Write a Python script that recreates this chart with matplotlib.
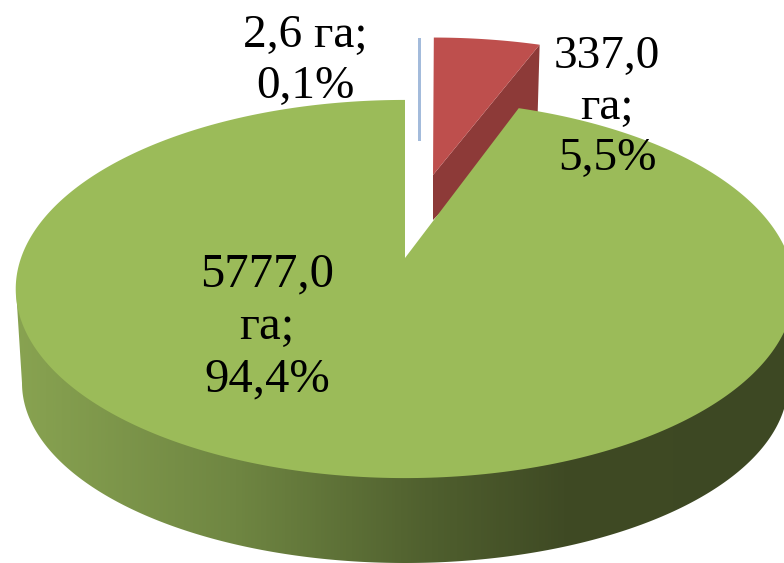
import numpy as np
import matplotlib
matplotlib.use("Agg")
import matplotlib.pyplot as plt
from matplotlib.patches import Polygon, Rectangle
from matplotlib.colors import LinearSegmentedColormap

# Data
areas = [2.6, 337.0, 5777.0]
labels = ["2,6 га;\n0,1%", "337,0\nга;\n5,5%", "5777,0\nга;\n94,4%"]
colors = ["#a3bbdb", "#be4f4d", "#9bbb59"]
side_red = "#8d3a38"

W, H = 784, 563
fig = plt.figure(figsize=(W / 100, H / 100), dpi=100)
ax = fig.add_axes([0, 0, 1, 1])
ax.set_xlim(0, W)
ax.set_ylim(H, 0)
ax.axis("off")

fr = np.array(areas) / sum(areas)
cum = np.concatenate([[0], np.cumsum(fr)]) * 2 * np.pi
K = 0.164


def proj(t, ax0, ay0, A, B):
    d = 1 + K * np.cos(t)
    return np.c_[ax0 + A * np.sin(t) / d, ay0 - B * np.cos(t) / d]


def rim(t0, t1, n=400):
    return np.linspace(t0, t1, n)


# Green side wall: lower rim of the pie body, joined to the top face extremes
th = np.linspace(np.pi, 0, 300)
lower = np.c_[405 + 383 * np.cos(th), 383 + 180 * np.sin(th)]
side = np.vstack([[[16, 289]], lower, [[794, 289]]])
side_poly = Polygon(side, closed=True, fc="none", ec="none", transform=ax.transData)
ax.add_patch(side_poly)
cmap = LinearSegmentedColormap.from_list(
    "side",
    [(0.0, "#8aa552"), (0.3, "#6f8642"), (0.55, "#4f5f2e"), (0.72, "#3f4a24"), (1.0, "#3d4823")],
)
grad = np.linspace(0, 1, 800)[None, :]
im = ax.imshow(grad, extent=(0, W, H, 0), cmap=cmap, aspect="auto", zorder=1)
im.set_clip_path(side_poly)
ax.set_xlim(0, W)
ax.set_ylim(H, 0)

# Red exploded slice: wall, then top face
r_apex = (433, 175)
r_rim = proj(rim(cum[1], cum[2]), r_apex[0], r_apex[1], 360, 160)
ax.add_patch(Polygon(
    [r_apex, r_rim[-1], (r_rim[-1][0] - 2, r_rim[-1][1] + 70), (r_apex[0], r_apex[1] + 45)],
    closed=True, fc=side_red, ec="none", zorder=2))
ax.add_patch(Polygon(np.vstack([[r_apex], r_rim]), closed=True, fc=colors[1], ec="none", zorder=3))

# Blue sliver
blue_top = proj(np.array([cum[1]]), 417.5, 175, 360, 160)[0]
ax.add_patch(Rectangle((blue_top[0], blue_top[1]), 3, 141 - blue_top[1], fc=colors[0], ec="none", zorder=3))

# Green top face
g_apex = (405, 258)
g_rim = proj(rim(cum[2], cum[3]), g_apex[0], g_apex[1], 384, 184)
ax.add_patch(Polygon(np.vstack([[g_apex], g_rim]), closed=True, fc=colors[2], ec="none", zorder=4))

# Labels
font = dict(family="Liberation Serif", color="black", ha="center", va="center", zorder=6, multialignment="center")
ax.text(305, 61, labels[0], fontsize=34, linespacing=1.25, **font)
ax.text(607, 108, labels[1], fontsize=34, linespacing=1.26, **font)
ax.text(267, 327, labels[2], fontsize=35, linespacing=1.24, **font)

fig.savefig("out.png", dpi=100)
